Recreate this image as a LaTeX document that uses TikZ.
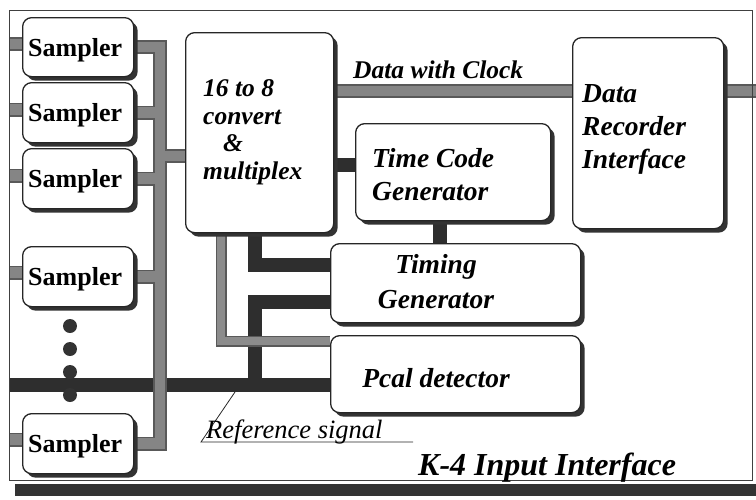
\documentclass[tikz,border=0pt]{standalone}
\usepackage{fontspec}
\setmainfont{Liberation Serif}
\usetikzlibrary{shadows,backgrounds,calc}
\begin{document}
\begin{tikzpicture}[x=1pt,y=-1pt,
  box/.style={draw=black!85, line width=1.3pt, fill=white, rounded corners=9pt,
    anchor=north west, inner sep=0pt,
    drop shadow={shadow xshift=4pt, shadow yshift=-4pt, fill=black!80, opacity=1}},
  samplerbox/.style={box, minimum width=111pt, minimum height=59pt},
  lbl/.style={font=\fontsize{27.5}{33}\selectfont\bfseries\itshape, inner sep=0pt, align=left},
  lblsmall/.style={font=\fontsize{25.5}{30}\selectfont\bfseries\itshape, inner sep=0pt, align=left},
  samplerlbl/.style={font=\fontsize{26}{30}\selectfont\bfseries, inner sep=0pt, anchor=base},
  blackbar/.style={line width=14pt, draw=black!82},
  graybarback/.style={line width=14pt, draw=black!65},
  graybarfront/.style={line width=10.5pt, draw=black!48},
  thingrayback/.style={line width=11pt, draw=black!65},
  thingrayfront/.style={line width=8pt, draw=black!45},
  dotmark/.style={circle, fill=black!80, minimum size=14pt, inner sep=0pt},
  thinline/.style={line width=0.8pt, draw=black!85},
]
\useasboundingbox (0,0) rectangle (756,499);

% outer frame and its shadow
\fill[black!80] (15,484) rectangle (756,496);
\node[draw=black!75, line width=1.2pt, minimum width=743pt, minimum height=470pt,
      anchor=north west, inner sep=0pt] (frame) at (9,10) {};

% samplers
\node[samplerbox] (s1) at (22,17) {};
\node[samplerbox, minimum height=60pt] (s2) at (22,82) {};
\node[samplerbox, minimum height=60pt] (s3) at (22,148) {};
\node[samplerbox, minimum height=60pt] (s4) at (22,246) {};
\node[samplerbox, minimum height=60pt] (s5) at (22,413) {};

% main blocks
\node[box, minimum width=148pt, minimum height=200pt] (mux) at (185,32) {};
\node[box, minimum width=195pt, minimum height=97pt] (tcg) at (355,123) {};
\node[box, minimum width=151pt, minimum height=191pt] (dri) at (572,37) {};
\node[box, minimum width=250pt, minimum height=79pt] (tg) at (330,243) {};
\node[box, minimum width=250pt, minimum height=77pt] (pcal) at (330,335) {};

% helper coordinates
\coordinate (bus) at (160,0);
\coordinate (muxin) at (0,156);
\coordinate (dwc) at (0,91);
\coordinate (out) at (756,91);
\coordinate (gx) at (221,341);
\coordinate (tcin) at (0,165);
\coordinate (tcx) at (440,0);
\coordinate (bx) at (255,0);
\coordinate (tgin1) at (0,265);
\coordinate (tgin2) at (0,302);
\coordinate (refy) at (0,385);
\coordinate (refa) at (235,392);
\coordinate (refb) at (201,442);
\coordinate (refc) at (413,442);

\begin{pgfonlayer}{background}
  % black connectors
  \draw[blackbar]
    (tcin -| mux.east) -- (tcin -| tcg.west)
    (tcx |- tcg.south) -- (tcx |- tg.north)
    (bx |- mux.south) -- (bx |- tgin1) -- (tgin1 -| tg.west)
    (tgin2 -| tg.west) -- (bx |- tgin2) -- (bx |- refy)
    (refy -| frame.west) -- (refy -| pcal.west);
  % gray bus
  \foreach \st in {graybarback, graybarfront}{
    \draw[\st]
      (s1.east) -- (s1.east -| bus) -- (s5.east -| bus) -- (s5.east)
      (s2.east) -- (s2.east -| bus)
      (s3.east) -- (s3.east -| bus)
      (s4.east) -- (s4.east -| bus)
      (muxin -| bus) -- (muxin -| mux.west)
      ($(s1.west)+(0,-3)$) -- ($(s1.west -| frame.west)+(0,-3)$)
      ($(s2.west)+(0,-3)$) -- ($(s2.west -| frame.west)+(0,-3)$)
      ($(s3.west)+(0,-3)$) -- ($(s3.west -| frame.west)+(0,-3)$)
      ($(s4.west)+(0,-4)$) -- ($(s4.west -| frame.west)+(0,-4)$)
      ($(s5.west)+(0,-4)$) -- ($(s5.west -| frame.west)+(0,-4)$)
      (dwc -| mux.east) -- (dwc -| dri.west)
      (dwc -| dri.east) -- (out);
  }
  \foreach \st in {thingrayback, thingrayfront}{
    \draw[\st] (gx |- mux.south) -- (gx) -- (gx -| pcal.west);
  }
\end{pgfonlayer}

% dots
\node[dotmark] (d1) at (70,326) {};
\node[dotmark] (d2) at (70,349) {};
\node[dotmark] (d3) at (70,372) {};
\node[dotmark] (d4) at (70,395) {};

% texts (multi-line nodes are anchored at the baseline of their last line)
\foreach \s in {s1,s2,s3,s4,s5}{
  \node[samplerlbl] (\s t) at ([xshift=-3pt,yshift=-9pt]\s.center) {Sampler};
}
\node[lblsmall, font=\fontsize{25.5}{27.5}\selectfont\bfseries\itshape, anchor=base west]
  (muxt) at ([xshift=18pt,yshift=-147pt]mux.north west)
  {16 to 8\\convert\\\hspace*{20pt}\&\\multiplex};
\node[lblsmall, anchor=base west] (dwct) at (353,78) {Data with Clock};
\node[lbl, anchor=base west] (tcgt) at ([xshift=17pt,yshift=-77pt]tcg.north west)
  {Time Code\\Generator};
\node[lbl, anchor=base west] (drit) at ([xshift=10pt,yshift=-131pt]dri.north west)
  {Data\\Recorder\\Interface};
\node[lbl, font=\fontsize{27.5}{35}\selectfont\bfseries\itshape, align=center, anchor=base]
  (tgt) at ([xshift=106pt,yshift=-65pt]tg.north west) {Timing\\Generator};
\node[lbl, anchor=base] (pcalt) at ([xshift=106pt,yshift=-52pt]pcal.north west) {Pcal detector};

\draw[thinline] (refa) -- (refb) -- (refc);
\node[font=\fontsize{26.5}{30}\selectfont\itshape, inner sep=0pt, anchor=base west]
  (reft) at (206,438) {Reference signal};
\node[font=\fontsize{32}{38}\selectfont\bfseries\itshape, inner sep=0pt, anchor=base west]
  (title) at (418,475) {K-4 Input Interface};
\end{tikzpicture}
\end{document}
